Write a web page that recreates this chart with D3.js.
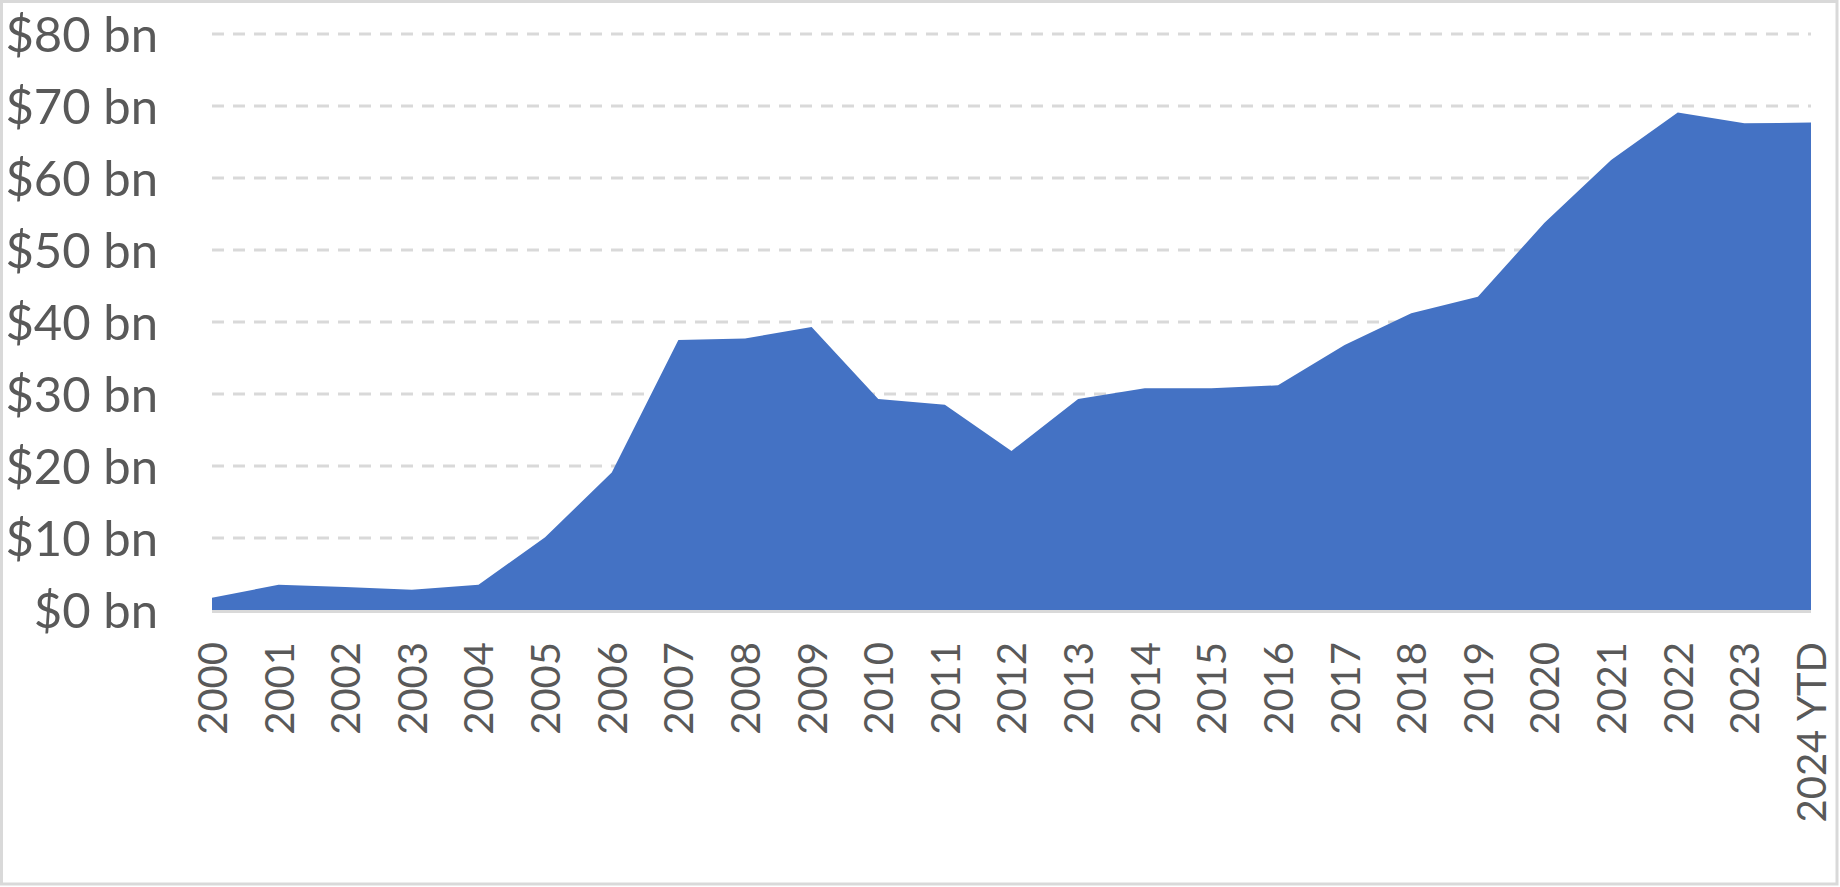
<!DOCTYPE html>
<html>
<head>
<meta charset="utf-8">
<script src="https://cdn.jsdelivr.net/npm/d3@7"></script>
<style>
  html, body { margin: 0; padding: 0; background: #fff; }
  svg { display: block; }
  text { font-family: Lato, "Open Sans", sans-serif; fill: #595959; }
</style>
</head>
<body>
<svg id="chart" width="1840" height="887"></svg>
<script>
const categories = ["2000","2001","2002","2003","2004","2005","2006","2007","2008","2009",
  "2010","2011","2012","2013","2014","2015","2016","2017","2018","2019","2020","2021",
  "2022","2023","2024 YTD"];
const values = [1.7, 3.5, 3.2, 2.8, 3.5, 10.1, 19.1, 37.5, 37.7, 39.3, 29.3, 28.5, 22.1,
  29.3, 30.8, 30.8, 31.2, 36.8, 41.2, 43.5, 53.8, 62.5, 69.1, 67.6, 67.7];
const yTicks = [0, 10, 20, 30, 40, 50, 60, 70, 80];
const yTickLabels = ["$0 bn","$10 bn","$20 bn","$30 bn","$40 bn","$50 bn","$60 bn","$70 bn","$80 bn"];

(function () {
const W = 1840, H = 887;
const plotL = 212, plotR = 1811, plotT = 34, plotB = 610;

const svg = d3.select("#chart");

// outer frame
svg.append("rect")
  .attr("x", 1.5).attr("y", 1.5).attr("width", W - 4.5).attr("height", H - 4.5)
  .attr("fill", "#fff").attr("stroke", "#D9D9D9").attr("stroke-width", 3);

const x = d3.scalePoint().domain(categories).range([plotL, plotR]);
const y = d3.scaleLinear().domain([0, 80]).range([plotB, plotT]);

// gridlines
svg.append("g").selectAll("line")
  .data(yTicks.filter(d => d > 0))
  .join("line")
  .attr("x1", plotL).attr("x2", plotR)
  .attr("y1", d => y(d)).attr("y2", d => y(d))
  .attr("stroke", "#D9D9D9").attr("stroke-width", 3)
  .attr("stroke-dasharray", "12 9");

// area
const area = d3.area()
  .x((d, i) => x(categories[i]))
  .y0(y(0))
  .y1(d => y(d));
svg.append("path")
  .datum(values)
  .attr("d", area)
  .attr("fill", "#4472C4");

// baseline axis
svg.append("line")
  .attr("x1", plotL).attr("x2", plotR)
  .attr("y1", y(0) + 1.5).attr("y2", y(0) + 1.5)
  .attr("stroke", "#D9D9D9").attr("stroke-width", 3);

// y labels
const yAxis = d3.axisLeft(y).tickValues(yTicks)
  .tickFormat((d, i) => yTickLabels[i]).tickSize(0).tickPadding(0);
const gy = svg.append("g").attr("transform", "translate(158,0)").call(yAxis);
gy.select(".domain").remove();
gy.selectAll("text")
  .attr("x", 0).attr("dy", "0.36em")
  .style("font-family", "Lato, 'Open Sans', sans-serif")
  .style("font-size", "49px").attr("fill", "#595959");

// x labels
const xAxis = d3.axisBottom(x).tickSize(0).tickPadding(0);
const gx = svg.append("g").attr("transform", "translate(0,642)").call(xAxis);
gx.select(".domain").remove();
gx.selectAll("text")
  .attr("transform", "rotate(-90)")
  .attr("x", 0).attr("y", 0).attr("dy", "0.36em")
  .attr("text-anchor", "end")
  .style("font-family", "Lato, 'Open Sans', sans-serif")
  .style("font-size", "40px").attr("fill", "#595959");
})();
</script>
</body>
</html>
